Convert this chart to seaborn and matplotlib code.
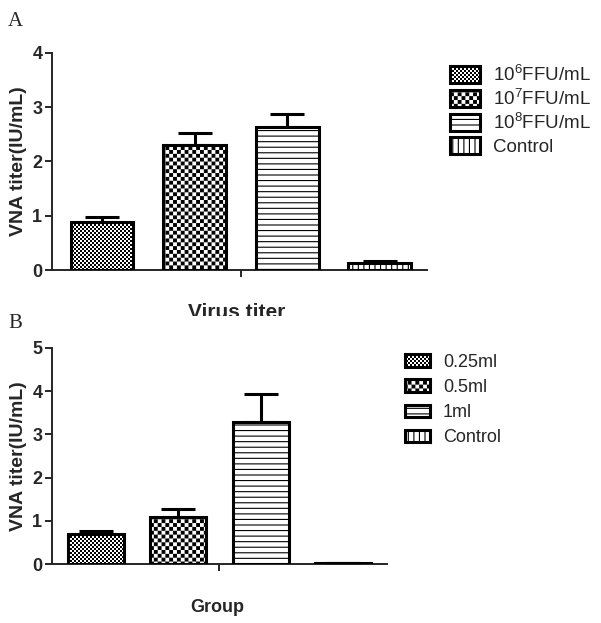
import numpy as np
import matplotlib
matplotlib.use('Agg')
import matplotlib.pyplot as plt
import matplotlib.hatch as mhatch
from matplotlib.path import Path
from matplotlib.transforms import Bbox, TransformedBbox
import seaborn as sns

# Panel A: virus titer groups
cats_a = ['10$^{\\mathrm{6}}$FFU/mL', '10$^{\\mathrm{7}}$FFU/mL', '10$^{\\mathrm{8}}$FFU/mL', 'Control']
vals_a = [0.88, 2.30, 2.64, 0.12]
errs_a = [0.09, 0.23, 0.23, 0.04]

# Panel B: dose groups
cats_b = ['0.25ml', '0.5ml', '1ml', 'Control']
vals_b = [0.70, 1.09, 3.29, 0.02]
errs_b = [0.07, 0.18, 0.63, 0.01]

hatches = ['**', '*', '---', '|||']


# checkerboard hatch (replaces the '*' star hatch)
class Checker(mhatch.HatchPatternBase):
    def __init__(self, hatch, density):
        n = hatch.count('*')
        self.cells = {1: 26, 2: 50}.get(n, 0)
        self.num_vertices = (self.cells ** 2 // 2) * 5

    def set_vertices_and_codes(self, vertices, codes):
        c = self.cells
        s = 1.0 / c
        pad = 0.8 * 100 / 72 / 2 / 100
        k = 0
        for i in range(c):
            for j in range(c):
                if (i + j) % 2:
                    continue
                x0, y0 = i * s + pad, j * s + pad
                x1, y1 = (i + 1) * s - pad, (j + 1) * s - pad
                vertices[k:k + 5] = [(x0, y0), (x1, y0), (x1, y1), (x0, y1), (x0, y0)]
                codes[k:k + 5] = [Path.MOVETO, Path.LINETO, Path.LINETO, Path.LINETO, Path.CLOSEPOLY]
                k += 5


mhatch._hatch_types = [t for t in mhatch._hatch_types if t is not mhatch.Stars] + [Checker]

sns.set_style('ticks')
plt.rcParams['font.family'] = ['Liberation Sans', 'DejaVu Sans']
plt.rcParams['mathtext.fontset'] = 'custom'
plt.rcParams['mathtext.rm'] = 'Liberation Sans'
plt.rcParams['hatch.linewidth'] = 0.8
plt.rcParams['hatch.color'] = 'black'

fig = plt.figure(figsize=(6.01, 6.23), dpi=100)
ax_a = fig.add_axes([0.0865, 0.5666, 0.624, 0.3488])
ax_b = fig.add_axes([0.0865, 0.0942, 0.557, 0.3477])


def draw(ax, cats, vals, errs, ymax, xlim, legend_pos, hl, hh, lsp, lfs):
    sns.barplot(x=cats, y=vals, hue=cats, palette=['white'] * 4, edgecolor='black',
                linewidth=2.2, width=0.68, legend=False, ax=ax, zorder=3)
    for p, h in zip(ax.patches, hatches):
        p.set_hatch(h)
    xs = [p.get_x() + p.get_width() / 2 for p in ax.patches]
    ax.errorbar(xs, vals, yerr=[np.zeros(len(vals)), errs], fmt='none', ecolor='black',
                elinewidth=2.2, capsize=12, capthick=2.2, zorder=2)
    ax.set_ylim(0, ymax)
    ax.set_yticks(range(ymax + 1))
    ax.set_xlim(*xlim)
    ax.set_xticks([1.5])
    ax.set_xticklabels([''])
    sns.despine(ax=ax)
    for s in ['left', 'bottom']:
        ax.spines[s].set_linewidth(1.4)
    ax.tick_params(axis='both', width=1.4, length=5, labelsize=13, pad=2)
    for t in ax.get_yticklabels():
        t.set_fontweight('bold')
    ax.set_ylabel('VNA titer(IU/mL)', fontsize=14, fontweight='bold', labelpad=4)
    ax.legend(ax.patches, cats, loc='upper left', bbox_to_anchor=legend_pos,
              bbox_transform=fig.transFigure, frameon=False, fontsize=lfs,
              handlelength=hl, handleheight=hh, labelspacing=lsp, handletextpad=0.7,
              borderaxespad=0, borderpad=0)


draw(ax_a, cats_a, vals_a, errs_a, 4, (-0.54, 3.51), (450 / 601, 1 - 64 / 623), 1.6, 1.05, 0.18, 13.5)
draw(ax_b, cats_b, vals_b, errs_b, 5, (-0.53, 3.53), (405 / 601, 1 - 354 / 623), 1.4, 0.7, 0.45, 13)

# x label of panel A is cut off at the panel edge, as in the source figure
vt = fig.text(237 / 601, 1 - 318 / 623, 'Virus titer', ha='center', va='baseline',
              fontsize=15, fontweight='bold')
vt.set_clip_box(TransformedBbox(Bbox([[0, 1 - 316 / 623], [1, 1]]), fig.transFigure))
vt.set_clip_on(True)
fig.text(217 / 601, 1 - 608 / 623, 'Group', ha='center', va='center', fontsize=13, fontweight='bold')
fig.text(8 / 601, 1 - 22 / 623, 'A', ha='left', va='center', fontsize=15, family='Liberation Serif')
fig.text(8 / 601, 1 - 323 / 623, 'B', ha='left', va='center', fontsize=15, family='Liberation Serif')

fig.savefig('out.png', dpi=100)
